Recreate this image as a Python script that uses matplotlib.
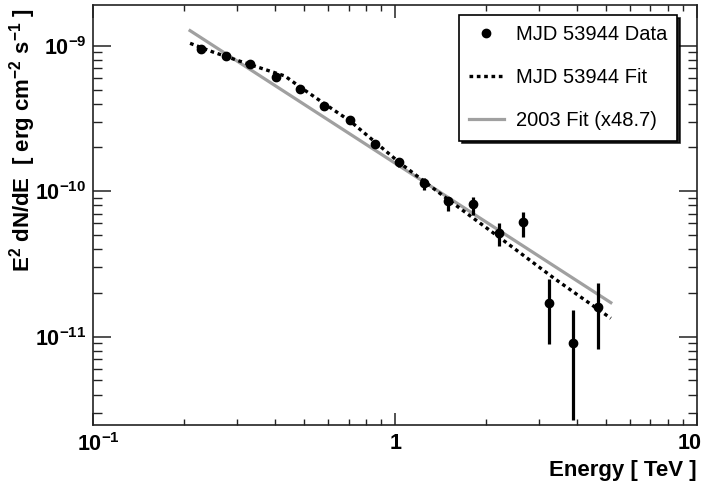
import matplotlib
matplotlib.use('Agg')
import matplotlib.pyplot as plt
import matplotlib.transforms as mtrans
import numpy as np
from matplotlib.ticker import LogLocator, NullFormatter, FixedFormatter, FixedLocator

plt.rcParams['font.family'] = ['Liberation Sans', 'DejaVu Sans']
plt.rcParams['font.weight'] = 'bold'
plt.rcParams['mathtext.fontset'] = 'custom'
plt.rcParams['mathtext.rm'] = 'Liberation Sans:bold'
plt.rcParams['mathtext.it'] = 'Liberation Sans:bold'
plt.rcParams['mathtext.bf'] = 'Liberation Sans:bold'
plt.rcParams['mathtext.sf'] = 'Liberation Sans:bold'

# MJD 53944 data points (TeV, erg cm^-2 s^-1)
energy = [0.227, 0.275, 0.330, 0.402, 0.484, 0.582, 0.709, 0.857, 1.032,
          1.246, 1.50, 1.81, 2.20, 2.66, 3.22, 3.88, 4.70]
flux = [9.45e-10, 8.54e-10, 7.48e-10, 6.12e-10, 5.04e-10, 3.87e-10, 3.09e-10,
        2.10e-10, 1.58e-10, 1.14e-10, 8.56e-11, 8.17e-11, 5.19e-11, 6.11e-11,
        1.70e-11, 9.01e-12, 1.59e-11]
flux_hi = [9.7e-10, 8.75e-10, 7.66e-10, 6.27e-10, 5.16e-10, 3.97e-10, 3.17e-10,
           2.16e-10, 1.70e-10, 1.227e-10, 9.17e-11, 9.17e-11, 6.07e-11, 7.23e-11,
           2.48e-11, 1.526e-11, 2.33e-11]
flux_lo = [9.2e-10, 8.33e-10, 7.30e-10, 5.97e-10, 4.92e-10, 3.77e-10, 3.01e-10,
           2.04e-10, 1.46e-10, 1.019e-10, 7.31e-11, 6.86e-11, 4.20e-11, 4.87e-11,
           8.91e-12, 2.68e-12, 8.23e-12]

# MJD 53944 fit curve (sampled)
fit_energy = [0.209, 0.249, 0.301, 0.362, 0.431, 0.484, 0.585, 0.708, 0.857,
              1.037, 1.519, 2.226, 3.386, 5.18]
fit_flux = [1.039e-9, 9.05e-10, 7.91e-10, 6.97e-10, 6.19e-10, 5.20e-10, 3.97e-10,
            3.04e-10, 2.18e-10, 1.562e-10, 8.56e-11, 4.77e-11, 2.49e-11, 1.338e-11]

# 2003 fit (scaled x48.7)
fit2003_energy = [0.209, 5.18]
fit2003_flux = [1.27e-9, 1.713e-11]

labels = ['MJD 53944 Data', 'MJD 53944 Fit', '2003 Fit (x48.7)']
x_ticks = [0.1, 1, 10]
x_ticklabels = [r'$\mathdefault{10^{-1}}$', '1', '10']
y_ticks = [1e-11, 1e-10, 1e-9]
y_ticklabels = [r'$\mathdefault{10^{-11}}$', r'$\mathdefault{10^{-10}}$', r'$\mathdefault{10^{-9}}$']

fig = plt.figure(figsize=(7.07, 4.86), dpi=100)
ax = fig.add_axes([0.1322, 0.1255, 0.8537, 0.8652])
ax.set_xscale('log')
ax.set_yscale('log')
ax.set_xlim(0.1, 10)
ax.set_ylim(2.47e-12, 1.92e-9)

ax.plot(fit2003_energy, fit2003_flux, color='#a0a0a0', lw=2.3, zorder=2, label=labels[2])
ax.plot(fit_energy, fit_flux, color='black', lw=2.4, ls=(0, (1.1, 1.1)), zorder=3,
        label=labels[1])

e = np.array(energy)
f = np.array(flux)
yerr = [f - np.array(flux_lo), np.array(flux_hi) - f]
ax.errorbar(e, f, yerr=yerr, fmt='none', ecolor='black', elinewidth=2.3, capsize=0, zorder=4)
ax.plot(e, f, 'o', color='black', ms=6, zorder=5, label=labels[0])

for sp in ax.spines.values():
    sp.set_linewidth(1.2)
    sp.set_color('#222222')

ax.tick_params(which='both', direction='in', top=True, right=True, color='#222222')
ax.tick_params(axis='y', which='major', length=13, width=1.1)
ax.tick_params(axis='y', which='minor', length=6.5, width=1.0)
ax.tick_params(axis='x', which='major', length=9, width=1.1)
ax.tick_params(axis='x', which='minor', length=4.5, width=1.0)
ax.tick_params(axis='both', which='major', labelsize=15.5, pad=5)
ax.tick_params(axis='x', which='major', pad=6)

ax.xaxis.set_major_locator(FixedLocator(x_ticks))
ax.xaxis.set_major_formatter(FixedFormatter(x_ticklabels))
ax.xaxis.set_minor_locator(LogLocator(base=10, subs=np.arange(2, 10)))
ax.xaxis.set_minor_formatter(NullFormatter())
ax.yaxis.set_major_locator(FixedLocator(y_ticks))
ax.yaxis.set_major_formatter(FixedFormatter(y_ticklabels))
ax.yaxis.set_minor_locator(LogLocator(base=10, subs=np.arange(2, 10), numticks=20))
ax.yaxis.set_minor_formatter(NullFormatter())

xt = ax.xaxis.get_major_ticks()
xt[0].label1.set_transform(xt[0].label1.get_transform() +
                           mtrans.ScaledTranslation(5 / 100, 0, fig.dpi_scale_trans))
xt[-1].label1.set_transform(xt[-1].label1.get_transform() +
                            mtrans.ScaledTranslation(-7 / 100, 0, fig.dpi_scale_trans))

ax.set_xlabel('Energy [ TeV ]', loc='right', fontsize=16, fontweight='bold', labelpad=3)
ax.set_ylabel(r'E$^{2}$ dN/dE  [ erg cm$^{-2}$ s$^{-1}$ ]', fontsize=16,
              fontweight='bold', ha='right', va='center', rotation=90,
              rotation_mode='anchor')
ax.yaxis.set_label_coords(-0.1175, 0.9917)

handles, labs = ax.get_legend_handles_labels()
order = [labs.index(l) for l in labels]
leg = ax.legend([handles[i] for i in order], [labs[i] for i in order],
                loc='upper right', bbox_to_anchor=(0.967, 0.975), frameon=True,
                fancybox=False, shadow={'color': 'black', 'alpha': 0.85},
                edgecolor='black', fontsize=14.5, labelspacing=1.2, borderpad=0.5,
                handlelength=1.7, handletextpad=0.6, borderaxespad=0)
leg.get_frame().set_linewidth(1.2)
for t in leg.get_texts():
    t.set_fontweight('normal')

fig.savefig('out.png', dpi=100)
